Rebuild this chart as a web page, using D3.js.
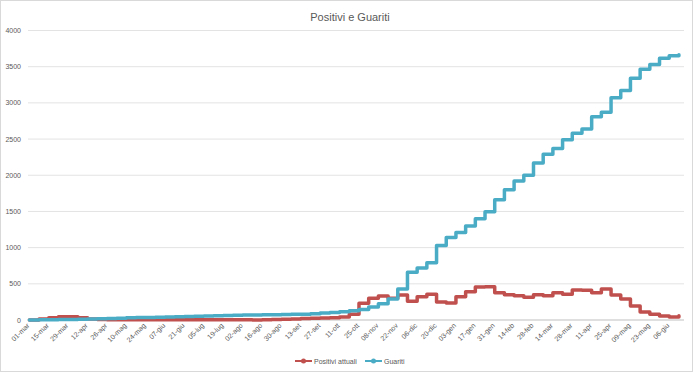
<!DOCTYPE html>
<html>
<head>
<meta charset="utf-8">
<script src="https://cdn.jsdelivr.net/npm/d3@7"></script>
<style>
  body { margin: 0; background: #fff; }
  text { font-family: "Liberation Sans Narrow", "Liberation Sans", sans-serif; fill: #595959; }
</style>
</head>
<body>
<script>
const width = 696;
const height = 373;

// valori settimanali (dal 02-mar-2020, uno ogni 7 giorni)
const positivi = [
  0, 15, 30, 45, 45, 30, 15, 8, 5, 3,
  2, 2, 2, 2, 2, 2, 3, 3, 3, 3,
  3, 2, 2, 0, 2, 8, 12, 15, 22, 25,
  28, 30, 40, 80, 230, 300, 330, 300, 345, 260,
  320, 355, 250, 235, 320, 390, 455, 460, 375, 350,
  335, 315, 350, 335, 375, 355, 415, 410, 375, 430,
  345, 290, 195, 110, 80, 55, 40, 60
];
const guariti = [
  0, 2, 4, 6, 8, 10, 13, 17, 21, 25,
  30, 33, 36, 39, 42, 45, 48, 51, 55, 58,
  62, 66, 68, 70, 72, 74, 76, 78, 80, 88,
  95, 105, 115, 128, 145, 180, 225, 290, 430, 660,
  720, 790, 1030, 1140, 1210, 1300, 1400, 1495, 1660, 1800,
  1920, 2000, 2170, 2290, 2370, 2490, 2580, 2640, 2810, 2870,
  3070, 3170, 3340, 3465, 3530, 3615, 3650, 3665
];
const etichetteX = [
  "01-mar", "15-mar", "29-mar", "12-apr", "26-apr", "10-mag", "24-mag",
  "07-giu", "21-giu", "05-lug", "19-lug", "02-ago", "16-ago", "30-ago",
  "13-set", "27-set", "11-ott", "25-ott", "08-nov", "22-nov", "06-dic",
  "20-dic", "03-gen", "17-gen", "31-gen", "14-feb", "28-feb", "14-mar",
  "28-mar", "11-apr", "25-apr", "09-mag", "23-mag", "06-giu"
];
const ticksY = [0, 500, 1000, 1500, 2000, 2500, 3000, 3500, 4000];
const serie = [
  { nome: "Positivi attuali", valori: positivi, colore: "#C0504D" },
  { nome: "Guariti", valori: guariti, colore: "#4BACC6" },
];

const inizio = new Date(2020, 2, 1);

const svg = d3
  .select("body")
  .append("svg")
  .attr("width", width)
  .attr("height", height);

svg
  .append("rect")
  .attr("x", 0.5)
  .attr("y", 0.5)
  .attr("width", 692)
  .attr("height", 371)
  .attr("fill", "#fff")
  .attr("stroke", "#D9D9D9");

const escalaX = d3
  .scaleTime()
  .domain([inizio, d3.timeDay.offset(inizio, 471)])
  .range([28, 680.3]);

const escalaY = d3.scaleLinear().domain([0, 4000]).range([320, 30.5]);

// griglia
svg
  .append("g")
  .selectAll("line")
  .data(ticksY)
  .join("line")
  .attr("x1", 28)
  .attr("x2", 684)
  .attr("y1", (d) => escalaY(d))
  .attr("y2", (d) => escalaY(d))
  .attr("stroke", (d) => (d === 0 ? "#BFBFBF" : "#E3E3E3"))
  .attr("stroke-width", 1);

svg
  .append("g")
  .selectAll("text")
  .data(ticksY)
  .join("text")
  .attr("x", 21)
  .attr("y", (d) => escalaY(d) + 2.5)
  .attr("text-anchor", "end")
  .attr("font-size", 7)
  .text((d) => d);

// etichette asse x
const dateTick = etichetteX.map((e, i) => d3.timeDay.offset(inizio, i * 14));
svg
  .append("g")
  .selectAll("text")
  .data(etichetteX)
  .join("text")
  .attr("text-anchor", "end")
  .attr("font-size", 7)
  .attr(
    "transform",
    (d, i) => `translate(${escalaX(dateTick[i]) + 2}, ${326}) rotate(-45)`
  )
  .text((d) => d);

// linee
const linea = d3
  .line()
  .x((d, i) => escalaX(d3.timeDay.offset(inizio, 1 + 7 * i)))
  .y((d) => escalaY(d))
  .curve(d3.curveStepAfter);

svg
  .append("g")
  .selectAll("path")
  .data(serie)
  .join("path")
  .attr("fill", "none")
  .attr("stroke", (d) => d.colore)
  .attr("stroke-width", 3.5)
  .attr("stroke-linejoin", "round")
  .attr("stroke-linecap", "round")
  .attr("d", (d) => linea(d.valori));

// titolo
svg
  .append("text")
  .attr("x", 350)
  .attr("y", 21)
  .attr("text-anchor", "middle")
  .attr("font-size", 11)
  .text("Positivi e Guariti");

// legenda
const legenda = svg
  .append("g")
  .selectAll("g")
  .data(serie)
  .join("g")
  .attr("transform", (d, i) => `translate(${i === 0 ? 295 : 365}, 361)`);

legenda
  .append("line")
  .attr("x1", 0)
  .attr("x2", 17)
  .attr("stroke", (d) => d.colore)
  .attr("stroke-width", 2);

legenda
  .append("circle")
  .attr("cx", 8.5)
  .attr("r", 2.5)
  .attr("fill", (d) => d.colore);

legenda
  .append("text")
  .attr("x", 19)
  .attr("y", 2.5)
  .attr("font-size", 7)
  .text((d) => d.nome);
</script>
</body>
</html>
